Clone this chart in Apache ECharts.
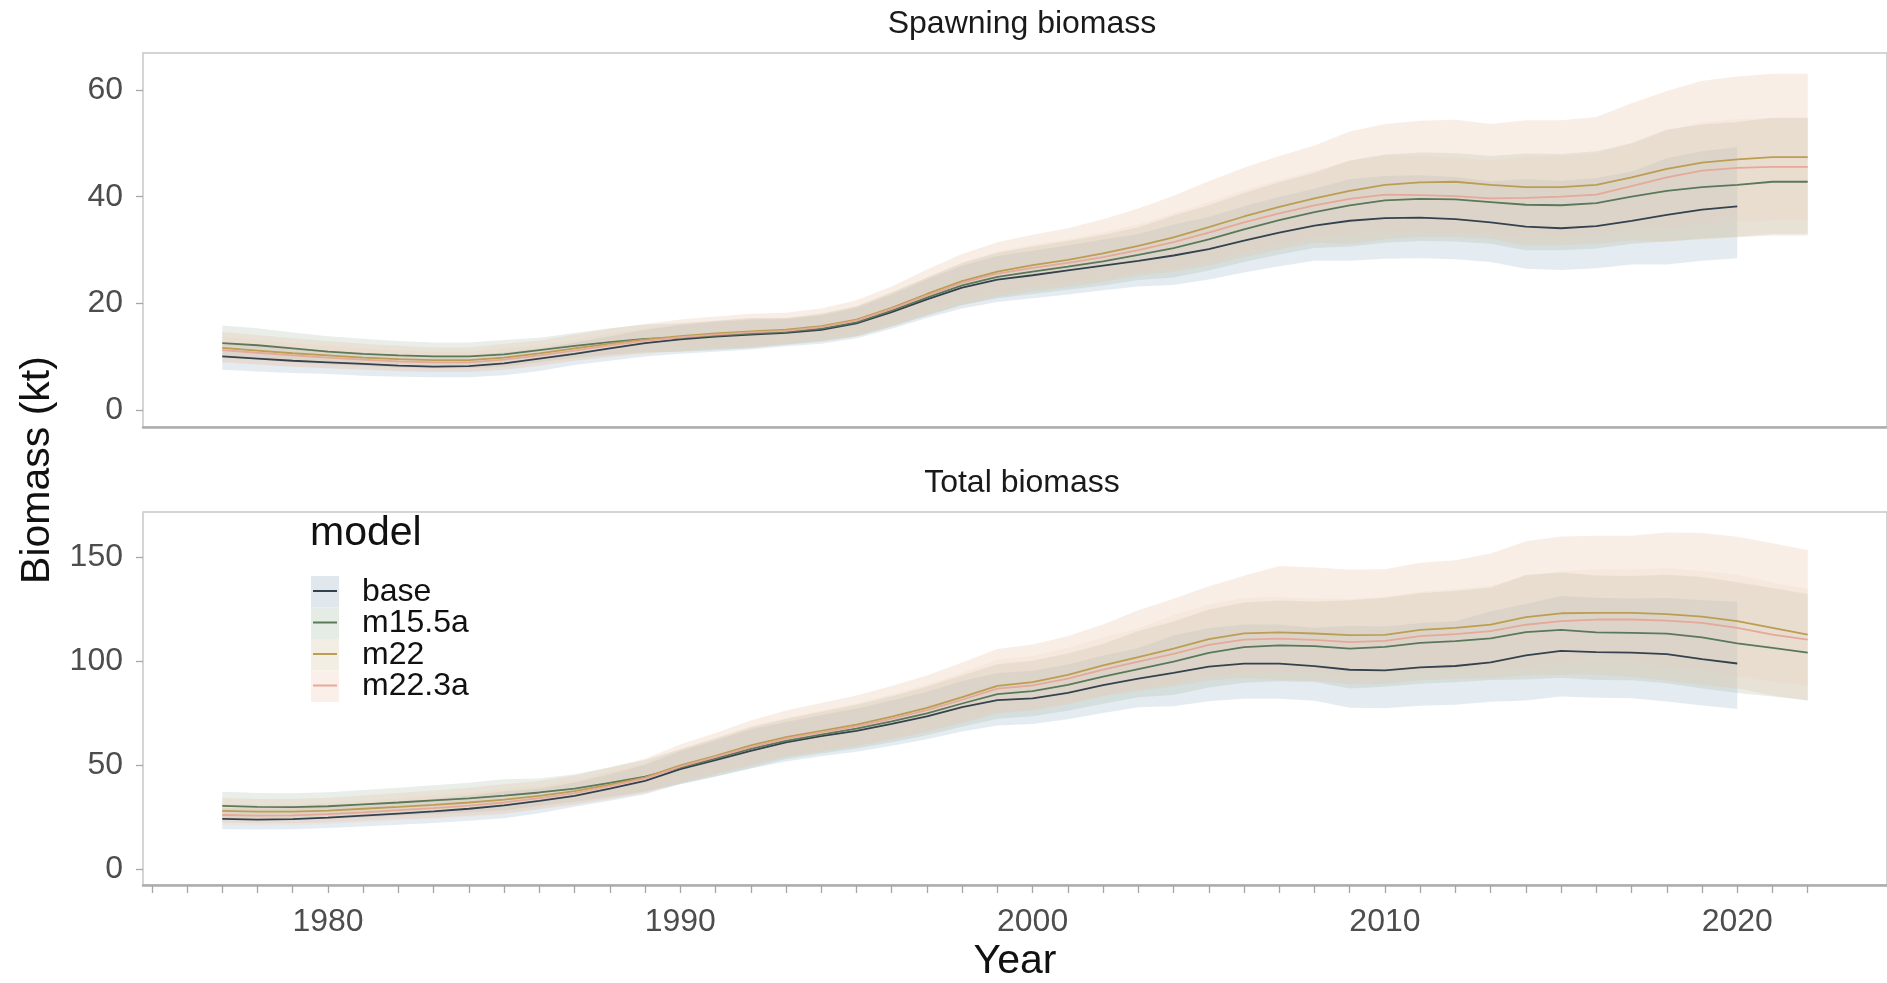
<!DOCTYPE html>
<html>
<head>
<meta charset="utf-8">
<script src="https://cdn.jsdelivr.net/npm/echarts@6/dist/echarts.min.js"></script>
<style>
  html, body { margin: 0; padding: 0; background: #ffffff; }
  #chart { width: 1887px; height: 983px; }
</style>
</head>
<body>
<div id="chart"></div>
<script>
// ---- data -------------------------------------------------------------
const years = [1977,1978,1979,1980,1981,1982,1983,1984,1985,1986,1987,1988,1989,1990,1991,1992,1993,1994,1995,1996,1997,1998,1999,2000,2001,2002,2003,2004,2005,2006,2007,2008,2009,2010,2011,2012,2013,2014,2015,2016,2017,2018,2019,2020,2021,2022];
const models = ['base', 'm15.5a', 'm22', 'm22.3a'];
const xTickLabels = [1980, 1990, 2000, 2010, 2020];
const ssbTickLabels = [0, 20, 40, 60];
const totTickLabels = [0, 50, 100, 150];

// Spawning biomass (kt): estimate, lower and upper bound per model
const ssbBase   = [10.1,9.7,9.3,9.0,8.7,8.4,8.2,8.3,8.8,9.7,10.6,11.6,12.6,13.3,13.8,14.2,14.5,15.1,16.3,18.4,20.8,23.0,24.5,25.3,26.2,27.1,28.0,29.0,30.2,31.8,33.3,34.6,35.5,36.0,36.1,35.8,35.2,34.4,34.1,34.5,35.5,36.6,37.6,38.2];
const ssbBaseLo = [7.6,7.3,7.0,6.8,6.5,6.3,6.2,6.2,6.6,7.4,8.5,9.3,10.1,10.6,11.0,11.4,12.0,12.5,13.5,15.3,17.3,19.1,20.3,21.0,21.7,22.5,23.2,23.5,24.5,25.8,27.0,28.0,28.0,28.4,28.5,28.3,27.8,26.5,26.3,26.6,27.3,27.3,28.0,28.5];
const ssbBaseHi = [12.5,12.0,11.5,11.2,10.8,10.4,10.2,10.3,10.9,11.6,12.7,13.9,15.1,16.0,16.6,17.0,17.1,17.8,19.2,21.7,24.5,27.1,28.9,29.9,30.9,32.0,33.0,34.8,36.2,38.2,40.0,41.5,43.3,43.9,44.0,43.7,42.9,43.3,43.0,43.5,44.7,47.2,48.5,49.3];

const ssbM155a   = [12.6,12.2,11.6,11.0,10.6,10.3,10.1,10.1,10.5,11.3,12.1,12.8,13.4,13.6,14.0,14.4,14.7,15.3,16.5,18.7,21.1,23.4,25.0,26.0,26.9,27.9,29.1,30.4,32.0,33.9,35.6,37.1,38.4,39.3,39.6,39.5,39.0,38.5,38.4,38.8,40.0,41.1,41.8,42.2,42.8,42.8];
const ssbM155aLo = [9.8,9.5,9.0,8.6,8.3,8.0,7.9,7.9,8.2,9.0,9.8,10.4,10.9,11.0,11.3,11.7,12.3,12.9,13.9,15.7,17.7,19.7,21.0,21.8,22.6,23.4,24.4,24.9,26.2,27.8,29.2,30.4,30.7,31.4,31.7,31.6,31.2,30.0,30.0,30.3,31.2,31.6,32.2,32.5,33.0,33.0];
const ssbM155aHi = [15.9,15.4,14.6,13.9,13.4,13.0,12.7,12.7,13.2,13.6,14.5,15.4,16.1,16.3,16.8,17.3,17.3,18.1,19.5,22.1,24.9,27.6,29.5,30.7,31.7,32.9,34.3,36.5,38.4,40.7,42.7,44.5,46.8,47.9,48.3,48.2,47.6,48.1,48.0,48.5,50.0,52.6,53.5,54.0,54.8,54.8];

const ssbM22   = [11.7,11.2,10.7,10.3,9.9,9.6,9.4,9.4,9.9,10.7,11.6,12.5,13.3,13.9,14.4,14.8,15.1,15.8,17.0,19.2,21.8,24.2,26.0,27.2,28.2,29.4,30.8,32.4,34.3,36.3,38.1,39.7,41.1,42.2,42.7,42.8,42.2,41.8,41.8,42.2,43.6,45.2,46.4,47.0,47.4,47.4];
const ssbM22Lo = [9.0,8.6,8.2,7.9,7.6,7.4,7.2,7.2,7.6,8.3,9.3,10.0,10.6,11.1,11.5,11.8,12.4,13.0,13.9,15.7,17.9,19.8,21.3,22.3,23.1,24.1,25.2,26.0,27.1,28.7,30.1,31.4,31.2,32.1,32.5,32.5,32.1,30.9,30.9,31.2,31.8,31.6,32.0,32.4,32.7,32.7];
const ssbM22Hi = [14.7,14.1,13.5,13.0,12.5,12.1,11.8,11.8,12.5,13.1,14.2,15.3,16.2,17.0,17.6,18.1,18.3,19.1,20.6,23.2,26.4,29.3,31.5,32.9,34.1,35.8,37.8,40.2,42.9,45.4,47.6,49.6,52.2,53.6,54.2,54.4,53.6,54.3,54.3,54.9,57.5,59.8,61.7,62.5,63.0,63.0];

const ssbM223a   = [11.3,10.8,10.3,9.9,9.5,9.2,9.0,9.0,9.5,10.3,11.2,12.2,13.0,13.7,14.2,14.6,14.9,15.6,16.8,19.0,21.5,23.9,25.6,26.7,27.6,28.7,30.0,31.5,33.3,35.2,36.9,38.4,39.6,40.4,40.3,40.1,39.7,39.8,40.0,40.4,42.0,43.6,44.9,45.4,45.6,45.6];
const ssbM223aLo = [9.0,8.6,8.2,7.9,7.6,7.4,7.2,7.2,7.6,8.5,9.3,10.1,10.8,11.4,11.8,12.1,12.8,13.4,14.4,16.3,18.5,20.6,22.0,23.0,23.7,24.7,25.8,26.5,28.0,29.6,31.0,32.3,32.9,33.5,33.4,33.3,33.0,32.2,32.4,32.7,34.0,34.0,35.0,35.4,35.6,35.6];
const ssbM223aHi = [13.8,13.2,12.6,12.1,11.6,11.2,11.0,11.0,11.6,12.2,13.2,14.4,15.3,16.2,16.8,17.2,17.3,18.1,19.5,22.0,24.9,27.7,29.7,31.0,32.0,33.3,34.8,36.9,39.0,41.2,43.2,44.9,46.7,47.7,47.6,47.3,46.8,47.4,47.6,48.1,50.0,52.3,53.9,54.5,54.7,54.7];

// Total biomass (kt)
const totBase   = [24.3,24.0,24.2,24.9,25.9,26.9,27.9,29.2,30.8,33.0,35.4,38.8,42.6,48.2,52.5,57.0,61.0,64.0,66.6,69.9,73.5,78.0,81.3,82.2,84.8,88.5,91.6,94.4,97.4,98.8,98.8,97.6,95.9,95.6,97.0,97.7,99.4,102.8,105.0,104.4,104.1,103.4,101.0,98.9];
const totBaseLo = [19.4,19.2,19.4,19.9,20.7,21.5,22.3,23.4,24.6,27.0,30.1,33.0,36.2,41.0,44.6,48.5,51.9,54.4,56.6,59.4,62.5,66.3,69.1,69.9,72.1,75.2,77.9,78.4,80.8,82.0,82.0,81.0,77.7,77.4,78.6,79.1,80.5,81.2,83.0,82.5,82.2,80.7,78.8,77.1];
const totBaseHi = [29.6,29.3,29.5,30.4,31.6,32.8,34.0,35.6,37.6,38.9,41.8,45.8,50.3,56.9,62.0,67.3,70.8,74.2,77.3,81.1,85.3,90.5,94.3,95.4,98.4,102.7,106.3,112.3,115.9,117.6,117.6,116.1,117.0,116.6,118.3,119.2,124.0,127.5,131.3,130.5,130.1,130.3,129.3,128.6];

const totM155a   = [30.6,30.1,30.0,30.4,31.3,32.2,33.2,34.2,35.5,37.0,38.8,41.6,44.6,48.9,53.3,57.9,61.8,64.8,67.6,71.1,75.0,79.7,84.2,85.6,88.6,92.6,96.2,99.8,104.0,106.8,107.6,107.2,106.0,106.9,108.8,109.6,111.0,114.0,115.0,113.8,113.6,113.2,111.4,108.6,106.4,104.1];
const totM155aLo = [24.5,24.1,24.0,24.3,25.0,25.8,26.6,27.4,28.4,30.5,32.6,34.9,37.5,41.1,44.8,48.6,53.1,55.7,58.1,61.1,64.5,68.5,72.4,73.6,76.2,79.6,82.7,83.8,87.4,89.7,90.4,90.0,86.9,87.7,89.2,89.9,91.0,91.2,92.0,91.0,90.9,89.4,86.9,84.7,83.0,81.2];
const totM155aHi = [37.3,36.7,36.6,37.1,38.2,39.3,40.5,41.7,43.3,43.7,45.8,49.1,52.6,57.7,62.9,68.3,72.3,75.8,79.1,83.2,87.8,93.2,98.5,100.2,103.7,108.3,114.5,119.0,124.8,128.2,129.1,128.6,129.3,130.4,132.7,133.7,135.4,141.4,142.6,141.1,140.9,141.5,140.4,137.9,135.1,132.2];

const totM22   = [28.2,27.8,27.8,28.3,29.2,30.1,31.1,32.2,33.6,35.4,37.6,40.8,44.3,50.0,54.6,59.6,63.6,66.6,69.6,73.4,77.6,82.8,88.2,90.0,93.4,98.0,102.0,106.0,110.6,113.4,113.8,113.3,112.5,112.6,115.0,116.0,117.6,121.2,123.0,123.2,123.2,122.6,121.4,119.2,116.0,112.8];
const totM22Lo = [22.6,22.2,22.2,22.6,23.4,24.1,24.9,25.8,26.9,29.0,31.2,33.9,36.8,41.5,45.9,50.1,54.1,56.6,59.2,62.4,66.0,70.4,75.0,76.5,79.4,83.3,85.7,88.0,90.7,91.9,91.0,90.6,88.9,89.0,90.9,91.6,91.7,93.3,93.5,93.6,92.4,90.7,88.6,87.0,83.5,81.2];
const totM22Hi = [34.4,33.9,33.9,34.5,35.6,36.7,37.9,39.3,41.0,42.5,45.1,49.0,53.2,60.0,65.5,71.5,76.3,79.9,83.5,88.1,93.1,99.4,105.8,108.0,112.1,117.6,124.4,130.0,136.0,141.0,145.7,145.0,144.0,144.1,147.2,148.5,151.7,157.6,159.9,160.2,160.2,161.8,161.5,159.7,156.6,153.4];

const totM223a   = [26.2,25.9,26.0,26.6,27.5,28.5,29.5,30.7,32.2,34.3,36.7,40.1,43.6,49.4,54.1,58.8,62.8,65.8,68.7,72.4,76.5,81.5,86.8,88.4,91.6,95.9,99.8,103.5,107.8,110.4,110.8,110.2,109.2,109.8,112.0,113.0,114.4,117.5,119.2,120.0,120.0,119.5,118.4,116.0,112.8,110.4];
const totM223aLo = [21.5,21.2,21.3,21.8,22.6,23.4,24.2,25.2,26.4,29.2,31.2,34.1,37.1,42.0,46.0,50.0,54.6,57.2,59.8,63.0,66.6,70.9,75.5,76.9,79.7,83.4,86.8,89.0,92.7,94.9,95.3,94.8,92.8,93.3,95.2,96.1,97.2,97.5,98.9,99.6,99.6,96.8,95.9,92.8,90.2,88.3];
const totM223aHi = [31.4,31.1,31.2,31.9,33.0,34.2,35.4,36.8,38.6,40.1,42.9,46.9,51.0,57.8,63.3,68.8,72.8,76.3,79.7,84.0,88.7,94.5,100.7,102.5,106.3,111.2,115.8,122.1,127.2,130.3,130.7,130.0,129.9,130.7,133.3,134.5,136.1,141.0,143.0,144.0,144.0,144.6,143.3,141.5,137.6,134.7];

// ---- styling ----------------------------------------------------------
const FONT = "'Liberation Sans', Arial, Helvetica, sans-serif";
const lineColors = ['#33424e', '#5a785a', '#bb9e52', '#e6a898'];
const bandColors = ['rgba(125,159,184,0.20)', 'rgba(147,168,147,0.20)', 'rgba(230,195,160,0.28)', 'rgba(240,205,190,0.18)'];
const keyFills   = ['#e0e8ed', '#e5ebe5', '#f3eee4', '#fbefea'];

const panels = [
  { est: [ssbBase, ssbM155a, ssbM22, ssbM223a],
    lo:  [ssbBaseLo, ssbM155aLo, ssbM22Lo, ssbM223aLo],
    hi:  [ssbBaseHi, ssbM155aHi, ssbM22Hi, ssbM223aHi] },
  { est: [totBase, totM155a, totM22, totM223a],
    lo:  [totBaseLo, totM155aLo, totM22Lo, totM223aLo],
    hi:  [totBaseHi, totM155aHi, totM22Hi, totM223aHi] }
];

// every year gets a small tick on the year axis
const yearTicks = [];
for (let y = 1975; y <= 2022; y++) yearTicks.push(y);

function bandSeries(lo, hi, color, idx, name) {
  return {
    type: 'custom',
    name: name,
    xAxisIndex: idx,
    yAxisIndex: idx,
    silent: true,
    z: 1,
    data: [[years[0], lo[0]]],
    renderItem: function (params, api) {
      const pts = [];
      for (let i = 0; i < lo.length; i++) pts.push(api.coord([years[i], hi[i]]));
      for (let i = lo.length - 1; i >= 0; i--) pts.push(api.coord([years[i], lo[i]]));
      return { type: 'polygon', shape: { points: pts }, style: { fill: color, stroke: null } };
    }
  };
}

function lineSeries(vals, color, idx, name) {
  return {
    type: 'line',
    name: name,
    xAxisIndex: idx,
    yAxisIndex: idx,
    z: 3,
    symbol: 'none',
    silent: true,
    color: color,
    lineStyle: { color: color, width: 1.8 },
    data: vals.map((v, i) => [years[i], v])
  };
}

const series = [];
panels.forEach((p, idx) => {
  models.forEach((m, k) => series.push(bandSeries(p.lo[k], p.hi[k], bandColors[k], idx, m + ' interval')));
});
panels.forEach((p, idx) => {
  models.forEach((m, k) => series.push(lineSeries(p.est[k], lineColors[k], idx, m)));
});

function xAxis(idx, withLabels) {
  return {
    type: 'value', gridIndex: idx, min: 1974.75, max: 2024.25,
    splitLine: { show: false },
    axisLine: { show: true, onZero: false, lineStyle: { color: '#adadad', width: 2.5 } },
    axisTick: { show: withLabels, length: 8, customValues: yearTicks, lineStyle: { color: '#a6a6a6', width: 1.3 } },
    axisLabel: { show: withLabels, customValues: xTickLabels, formatter: v => String(v), margin: 21, color: '#4d4d4d', fontSize: 32, fontFamily: FONT },
    name: withLabels ? 'Year' : '',
    nameLocation: 'middle',
    nameGap: 56,
    nameTextStyle: { color: '#111111', fontSize: 41, fontFamily: FONT }
  };
}

function yAxis(idx, min, max, ticks) {
  return {
    type: 'value', gridIndex: idx, min: min, max: max,
    splitLine: { show: false },
    axisLine: { show: false },
    axisTick: { show: true, length: 7, customValues: ticks, lineStyle: { color: '#a6a6a6', width: 1.3 } },
    axisLabel: { customValues: ticks, formatter: v => String(v), margin: 20, color: '#4d4d4d', fontSize: 32, fontFamily: FONT }
  };
}

// legend drawn as key boxes with a line, plus the label
const legendGraphics = [
  { type: 'text', left: 310, top: 513, style: { text: 'model', fontSize: 41, fontFamily: FONT, fill: '#111111' } }
];
models.forEach((m, k) => {
  const top = 576 + k * 31.5;
  legendGraphics.push({ type: 'rect', shape: { x: 311, y: top, width: 28, height: 31.5 }, style: { fill: keyFills[k] } });
  legendGraphics.push({ type: 'line', shape: { x1: 313, y1: top + 15, x2: 337, y2: top + 15 }, style: { stroke: lineColors[k], lineWidth: 2 } });
  legendGraphics.push({ type: 'text', x: 362, y: top + 16, style: { text: m, fontSize: 32, fontFamily: FONT, fill: '#111111', textVerticalAlign: 'middle', verticalAlign: 'middle' } });
});

const option = {
  backgroundColor: '#ffffff',
  animation: false,
  grid: [
    { left: 143, top: 53, right: -16, height: 374, show: true, borderColor: '#c8c8c8', borderWidth: 1.5, backgroundColor: 'transparent' },
    { left: 143, top: 512, right: -16, height: 374, show: true, borderColor: '#c8c8c8', borderWidth: 1.5, backgroundColor: 'transparent' }
  ],
  xAxis: [xAxis(0, false), xAxis(1, true)],
  yAxis: [yAxis(0, -3.1, 66.9, ssbTickLabels), yAxis(1, -7.4, 171.6, totTickLabels)],
  series: series,
  graphic: [
    { type: 'text', x: 1022, y: 24, style: { text: 'Spawning biomass', fontSize: 32, fontFamily: FONT, fill: '#1a1a1a', align: 'center', verticalAlign: 'middle' } },
    { type: 'text', x: 1022, y: 483, style: { text: 'Total biomass', fontSize: 32, fontFamily: FONT, fill: '#1a1a1a', align: 'center', verticalAlign: 'middle' } },
    { type: 'text', x: 38, y: 470, rotation: Math.PI / 2, style: { text: 'Biomass (kt)', fontSize: 41, fontFamily: FONT, fill: '#111111', align: 'center', verticalAlign: 'middle' } }
  ].concat(legendGraphics)
};

const chart = echarts.init(document.getElementById('chart'), null, { renderer: 'canvas' });
chart.setOption(option);
</script>
</body>
</html>
